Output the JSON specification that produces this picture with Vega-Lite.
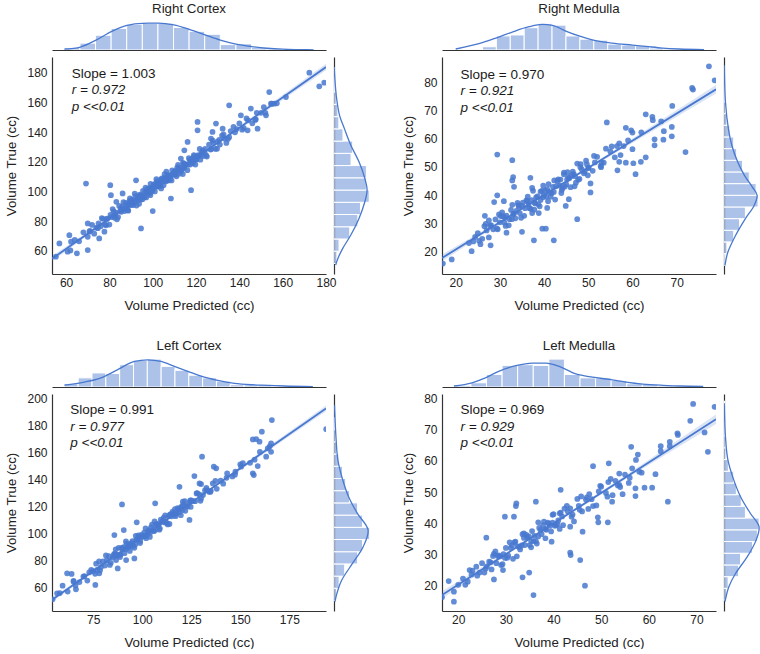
{
"$schema": "https://vega.github.io/schema/vega-lite/v6.json",
"padding": {"left": 4, "top": 1, "right": 0, "bottom": 0},
"datasets": {
"pts": [
{"p":"RC","x":62,"y":60.2},{"p":"RC","x":64,"y":67.3},{"p":"RC","x":66,"y":66.3},{"p":"RC","x":68,"y":72.4},{"p":"RC","x":70,"y":69.4},{"p":"RC","x":71,"y":73.4},{"p":"RC","x":72,"y":77.4},{"p":"RC","x":73,"y":71.5},{"p":"RC","x":74,"y":75.5},{"p":"RC","x":75,"y":78.5},{"p":"RC","x":76,"y":76.5},{"p":"RC","x":77,"y":81.5},{"p":"RC","x":78,"y":77.6},{"p":"RC","x":79,"y":81.6},{"p":"RC","x":80,"y":77.6},{"p":"RC","x":80.5,"y":84.1},{"p":"RC","x":81,"y":82.6},{"p":"RC","x":82,"y":86.6},{"p":"RC","x":82.5,"y":82.2},{"p":"RC","x":83,"y":85.7},{"p":"RC","x":84,"y":82.7},{"p":"RC","x":84.5,"y":90.2},{"p":"RC","x":85,"y":86.7},{"p":"RC","x":85.5,"y":86.2},{"p":"RC","x":86,"y":89.7},{"p":"RC","x":87,"y":86.7},{"p":"RC","x":87.5,"y":92.3},{"p":"RC","x":88,"y":89.8},{"p":"RC","x":88.5,"y":87.3},{"p":"RC","x":89,"y":91.8},{"p":"RC","x":89.5,"y":95.3},{"p":"RC","x":90,"y":90.8},{"p":"RC","x":90.5,"y":94.3},{"p":"RC","x":91,"y":90.8},{"p":"RC","x":91.5,"y":93.3},{"p":"RC","x":92,"y":96.8},{"p":"RC","x":92.5,"y":90.4},{"p":"RC","x":93,"y":95.9},{"p":"RC","x":93.5,"y":94.4},{"p":"RC","x":94,"y":97.9},{"p":"RC","x":94.5,"y":94.4},{"p":"RC","x":95,"y":96.9},{"p":"RC","x":95.5,"y":100.4},{"p":"RC","x":96,"y":96.9},{"p":"RC","x":96.5,"y":99.4},{"p":"RC","x":97,"y":95.9},{"p":"RC","x":97.5,"y":101.5},{"p":"RC","x":98,"y":100},{"p":"RC","x":98.5,"y":98.5},{"p":"RC","x":99,"y":105},{"p":"RC","x":99.5,"y":102.5},{"p":"RC","x":100,"y":101},{"p":"RC","x":100.5,"y":104.5},{"p":"RC","x":101,"y":100},{"p":"RC","x":101.5,"y":103.5},{"p":"RC","x":102,"y":107},{"p":"RC","x":102.5,"y":103.6},{"p":"RC","x":103,"y":106.1},{"p":"RC","x":103.5,"y":103.6},{"p":"RC","x":104,"y":108.1},{"p":"RC","x":104.5,"y":106.6},{"p":"RC","x":105,"y":104.1},{"p":"RC","x":105.5,"y":111.6},{"p":"RC","x":106,"y":109.1},{"p":"RC","x":106.5,"y":107.6},{"p":"RC","x":107,"y":111.1},{"p":"RC","x":108,"y":108.2},{"p":"RC","x":108.5,"y":110.7},{"p":"RC","x":109,"y":114.2},{"p":"RC","x":110,"y":111.2},{"p":"RC","x":110.5,"y":113.7},{"p":"RC","x":111,"y":110.2},{"p":"RC","x":112,"y":116.2},{"p":"RC","x":112.5,"y":114.8},{"p":"RC","x":113,"y":113.3},{"p":"RC","x":114,"y":119.3},{"p":"RC","x":114.5,"y":115.8},{"p":"RC","x":115,"y":118.3},{"p":"RC","x":116,"y":114.3},{"p":"RC","x":117,"y":121.3},{"p":"RC","x":118,"y":120.4},{"p":"RC","x":118.5,"y":118.9},{"p":"RC","x":119,"y":124.4},{"p":"RC","x":120,"y":121.4},{"p":"RC","x":121,"y":124.4},{"p":"RC","x":122,"y":121.4},{"p":"RC","x":123,"y":127.5},{"p":"RC","x":124,"y":126.5},{"p":"RC","x":125,"y":123.5},{"p":"RC","x":126,"y":131.5},{"p":"RC","x":127,"y":128.5},{"p":"RC","x":128,"y":132.6},{"p":"RC","x":129,"y":128.6},{"p":"RC","x":130,"y":133.6},{"p":"RC","x":131,"y":131.6},{"p":"RC","x":132,"y":137.6},{"p":"RC","x":133,"y":135.7},{"p":"RC","x":134,"y":132.7},{"p":"RC","x":136,"y":140.7},{"p":"RC","x":138,"y":139.8},{"p":"RC","x":140,"y":145.8},{"p":"RC","x":142,"y":142.8},{"p":"RC","x":144,"y":147.9},{"p":"RC","x":146,"y":145.9},{"p":"RC","x":148,"y":153},{"p":"RC","x":150,"y":153},{"p":"RC","x":152,"y":153},{"p":"RC","x":155,"y":159.1},
{"p":"RC","x":85.3,"y":88.5},{"p":"RC","x":87.3,"y":88},{"p":"RC","x":89.3,"y":93.6},{"p":"RC","x":91.3,"y":92.6},{"p":"RC","x":93.3,"y":96.2},{"p":"RC","x":95.3,"y":94.7},{"p":"RC","x":97.3,"y":99.7},{"p":"RC","x":99.3,"y":99.8},{"p":"RC","x":101.3,"y":105.3},{"p":"RC","x":103.3,"y":104.9},{"p":"RC","x":105.3,"y":108.9},{"p":"RC","x":107.3,"y":107.4},{"p":"RC","x":109.3,"y":112},{"p":"RC","x":111.3,"y":116},{"p":"RC","x":113.3,"y":114.6},{"p":"RC","x":115.3,"y":118.1},{"p":"RC","x":117.3,"y":118.1},{"p":"RC","x":119.3,"y":123.7},{"p":"RC","x":121.3,"y":123.7},{"p":"RC","x":123.3,"y":123.8},{"p":"RC","x":90.7,"y":93},{"p":"RC","x":94.7,"y":95.6},{"p":"RC","x":98.7,"y":102.2},{"p":"RC","x":102.7,"y":104.3},{"p":"RC","x":106.7,"y":109.8},{"p":"RC","x":110.7,"y":111.4},{"p":"RC","x":114.7,"y":117.5},{"p":"RC","x":118.7,"y":120.6},{"p":"RC","x":122.7,"y":126.2},{"p":"RC","x":126.7,"y":128.2},{"p":"RC","x":78.7,"y":81.3},{"p":"RC","x":82.7,"y":83.9},{"p":"RC","x":74.7,"y":75.2},{"p":"RC","x":130.7,"y":134.8},{"p":"RC","x":135.3,"y":136.5},{"p":"RC","x":138.7,"y":142},
{"p":"RC","x":86.2,"y":88.4},{"p":"RC","x":88.2,"y":88.5},{"p":"RC","x":90.2,"y":94},{"p":"RC","x":92.2,"y":93.5},{"p":"RC","x":94.2,"y":97.1},{"p":"RC","x":96.2,"y":96.1},{"p":"RC","x":98.2,"y":101.7},{"p":"RC","x":100.2,"y":102.2},{"p":"RC","x":102.2,"y":103.2},{"p":"RC","x":104.2,"y":108.8},{"p":"RC","x":106.2,"y":106.8},{"p":"RC","x":108.2,"y":110.9},{"p":"RC","x":110.2,"y":113.4},{"p":"RC","x":112.2,"y":111.9},{"p":"RC","x":114.2,"y":118.5},{"p":"RC","x":116.2,"y":118},{"p":"RC","x":118.2,"y":122.1},{"p":"RC","x":120.2,"y":121.6},{"p":"RC","x":122.2,"y":124.6},{"p":"RC","x":124.2,"y":128.7},{"p":"RC","x":89.8,"y":91.1},{"p":"RC","x":93.8,"y":96.2},{"p":"RC","x":97.8,"y":99.3},{"p":"RC","x":101.8,"y":104.3},{"p":"RC","x":105.8,"y":107.4},{"p":"RC","x":109.8,"y":112.5},{"p":"RC","x":113.8,"y":115.6},{"p":"RC","x":117.8,"y":120.7},
{"p":"RC","x":76.5,"y":82},{"p":"RC","x":78.5,"y":77.1},{"p":"RC","x":81.5,"y":88.1},{"p":"RC","x":83.5,"y":81.2},{"p":"RC","x":86.5,"y":92.7},{"p":"RC","x":88.7,"y":87},{"p":"RC","x":91.7,"y":98.5},{"p":"RC","x":93.7,"y":91.6},{"p":"RC","x":96.7,"y":102.6},{"p":"RC","x":98.9,"y":97.4},{"p":"RC","x":101.7,"y":108.2},{"p":"RC","x":103.9,"y":102},{"p":"RC","x":106.3,"y":113.4},{"p":"RC","x":108.7,"y":107.4},{"p":"RC","x":111.7,"y":117.9},{"p":"RC","x":113.9,"y":111.7},{"p":"RC","x":116.7,"y":122.5},{"p":"RC","x":119.7,"y":118.1},{"p":"RC","x":121.7,"y":128.6},{"p":"RC","x":124.7,"y":124.2},{"p":"RC","x":127.7,"y":134.3},{"p":"RC","x":129.7,"y":128.8},{"p":"RC","x":132.7,"y":138.4},{"p":"RC","x":134.7,"y":135.4},{"p":"RC","x":137.3,"y":143.5},{"p":"RC","x":141.3,"y":141.6},{"p":"RC","x":143.3,"y":149.2},{"p":"RC","x":147.3,"y":148.2},{"p":"RC","x":151.3,"y":156.8},{"p":"RC","x":157.3,"y":159.4},
{"p":"RC","x":172.3,"y":180},{"p":"RC","x":176.9,"y":170.8},{"p":"RC","x":179.2,"y":173.3},{"p":"RC","x":153.8,"y":167},{"p":"RC","x":154.6,"y":159.1},{"p":"RC","x":156.1,"y":159.1},{"p":"RC","x":161.5,"y":163.6},{"p":"RC","x":135.3,"y":158},{"p":"RC","x":145.3,"y":155.8},{"p":"RC","x":140.7,"y":151.3},{"p":"RC","x":143.8,"y":141.2},{"p":"RC","x":148.4,"y":142.3},{"p":"RC","x":147.6,"y":148.6},{"p":"RC","x":152.3,"y":151.3},{"p":"RC","x":120.7,"y":146.8},{"p":"RC","x":120.7,"y":141.2},{"p":"RC","x":129.2,"y":145.7},{"p":"RC","x":127.6,"y":140.1},{"p":"RC","x":132.3,"y":142.3},{"p":"RC","x":126.9,"y":135.6},{"p":"RC","x":116.1,"y":133.3},{"p":"RC","x":114.6,"y":127.7},{"p":"RC","x":113,"y":122.1},{"p":"RC","x":92.3,"y":107.5},{"p":"RC","x":80.4,"y":104.2},{"p":"RC","x":69.2,"y":105.3},{"p":"RC","x":117.7,"y":100.8},{"p":"RC","x":108.4,"y":95.2},{"p":"RC","x":100,"y":86.7},{"p":"RC","x":94.6,"y":75},{"p":"RC","x":80.7,"y":97.4},{"p":"RC","x":86.1,"y":98.6},{"p":"RC","x":83.2,"y":93},{"p":"RC","x":70,"y":78.4},{"p":"RC","x":70.8,"y":72.8},{"p":"RC","x":56.9,"y":64.9},{"p":"RC","x":61.5,"y":70.5},{"p":"RC","x":62.3,"y":66.1},{"p":"RC","x":65,"y":58.2},{"p":"RC","x":70,"y":60.4},{"p":"RC","x":55.3,"y":56},{"p":"RC","x":60.7,"y":59.3},{"p":"RC","x":77.7,"y":72.8},{"p":"RC","x":75.3,"y":68.3},
{"p":"RM","x":24,"y":23.5},{"p":"RM","x":25,"y":26.4},{"p":"RM","x":26,"y":24.4},{"p":"RM","x":26.5,"y":28.9},{"p":"RM","x":27,"y":27.4},{"p":"RM","x":27.5,"y":24.9},{"p":"RM","x":28,"y":29.3},{"p":"RM","x":28.5,"y":27.8},{"p":"RM","x":29,"y":31.3},{"p":"RM","x":29.5,"y":27.8},{"p":"RM","x":30,"y":30.3},{"p":"RM","x":30.5,"y":33.8},{"p":"RM","x":31,"y":30.2},{"p":"RM","x":31.5,"y":32.7},{"p":"RM","x":32,"y":29.2},{"p":"RM","x":32.5,"y":34.7},{"p":"RM","x":33,"y":33.2},{"p":"RM","x":33.5,"y":31.7},{"p":"RM","x":34,"y":37.2},{"p":"RM","x":34.5,"y":33.6},{"p":"RM","x":35,"y":36.1},{"p":"RM","x":35.5,"y":32.6},{"p":"RM","x":36,"y":38.1},{"p":"RM","x":36.5,"y":36.6},{"p":"RM","x":37,"y":35.1},{"p":"RM","x":37.5,"y":41.5},{"p":"RM","x":38,"y":37},{"p":"RM","x":38.5,"y":39.5},{"p":"RM","x":39,"y":36},{"p":"RM","x":39.5,"y":41.5},{"p":"RM","x":40,"y":40},{"p":"RM","x":40.5,"y":39.4},{"p":"RM","x":41,"y":43.9},{"p":"RM","x":41.5,"y":39.4},{"p":"RM","x":42,"y":42.9},{"p":"RM","x":42.5,"y":38.4},{"p":"RM","x":43,"y":44.9},{"p":"RM","x":43.5,"y":43.4},{"p":"RM","x":44,"y":41.8},{"p":"RM","x":44.5,"y":47.3},{"p":"RM","x":45,"y":43.8},{"p":"RM","x":45.5,"y":46.3},{"p":"RM","x":46,"y":42.8},{"p":"RM","x":46.5,"y":48.3},{"p":"RM","x":47,"y":46.7},{"p":"RM","x":47.5,"y":51.2},{"p":"RM","x":48,"y":45.7},{"p":"RM","x":48.5,"y":49.2},{"p":"RM","x":49,"y":47.7},{"p":"RM","x":49.5,"y":52.2},{"p":"RM","x":50,"y":49.6},{"p":"RM","x":51,"y":48.6},{"p":"RM","x":52,"y":53.6},{"p":"RM","x":53,"y":51.5},{"p":"RM","x":54,"y":56.5},{"p":"RM","x":55,"y":55.5},{"p":"RM","x":56,"y":53.4},{"p":"RM","x":57,"y":58.4},{"p":"RM","x":58,"y":57.4},{"p":"RM","x":59,"y":59.4},{"p":"RM","x":60,"y":56.3},{"p":"RM","x":62,"y":62.3},
{"p":"RM","x":30.7,"y":32.4},{"p":"RM","x":32.2,"y":31.4},{"p":"RM","x":33.7,"y":34.4},{"p":"RM","x":35.2,"y":37.3},{"p":"RM","x":36.7,"y":35.3},{"p":"RM","x":38.2,"y":39.2},{"p":"RM","x":39.7,"y":39.2},{"p":"RM","x":40.7,"y":42.1},{"p":"RM","x":41.7,"y":40.6},{"p":"RM","x":42.7,"y":43.1},{"p":"RM","x":43.7,"y":45.5},{"p":"RM","x":44.7,"y":43},{"p":"RM","x":45.7,"y":46},{"p":"RM","x":46.7,"y":47.4},{"p":"RM","x":47.7,"y":45.4},{"p":"RM","x":49.7,"y":50.9},{"p":"RM","x":51.5,"y":51.6},{"p":"RM","x":53.5,"y":51.5},{"p":"RM","x":56.5,"y":57.4},{"p":"RM","x":34.3,"y":35.9},{"p":"RM","x":37.8,"y":37.3},{"p":"RM","x":39.2,"y":41.2},{"p":"RM","x":29.3,"y":28.1},{"p":"RM","x":27.8,"y":29.1},
{"p":"RM","x":31.2,"y":31.9},{"p":"RM","x":32.7,"y":31.4},{"p":"RM","x":34.2,"y":36.3},{"p":"RM","x":35.7,"y":35.3},{"p":"RM","x":37.2,"y":38.2},{"p":"RM","x":38.7,"y":36.7},{"p":"RM","x":40.2,"y":41.6},{"p":"RM","x":41.2,"y":41.1},{"p":"RM","x":42.2,"y":41.1},{"p":"RM","x":43.2,"y":45.6},{"p":"RM","x":44.2,"y":42.5},{"p":"RM","x":45.2,"y":45.5},{"p":"RM","x":46.2,"y":47},{"p":"RM","x":47.2,"y":44.4},{"p":"RM","x":48.2,"y":49.9},{"p":"RM","x":49.2,"y":48.4},{"p":"RM","x":36.2,"y":37.8},{"p":"RM","x":39.2,"y":38.2},{"p":"RM","x":33.2,"y":33.4},{"p":"RM","x":30.2,"y":32.5},
{"p":"RM","x":29.8,"y":33.1},{"p":"RM","x":31.3,"y":29},{"p":"RM","x":32.8,"y":36.5},{"p":"RM","x":34.8,"y":31.9},{"p":"RM","x":36.3,"y":39.4},{"p":"RM","x":37.8,"y":34.8},{"p":"RM","x":39.8,"y":43.3},{"p":"RM","x":40.9,"y":37.8},{"p":"RM","x":42.3,"y":45.2},{"p":"RM","x":43.9,"y":40.7},{"p":"RM","x":45.3,"y":48.1},{"p":"RM","x":46.9,"y":43.1},{"p":"RM","x":48.3,"y":51},{"p":"RM","x":49.9,"y":47},{"p":"RM","x":51.3,"y":53.9},{"p":"RM","x":52.9,"y":49.9},{"p":"RM","x":55.3,"y":57.3},{"p":"RM","x":57.3,"y":54.2},{"p":"RM","x":26.8,"y":29.7},{"p":"RM","x":25.3,"y":23.7},
{"p":"RM","x":77.3,"y":85.8},{"p":"RM","x":78.6,"y":80.8},{"p":"RM","x":73.5,"y":78.1},{"p":"RM","x":73.7,"y":77.5},{"p":"RM","x":69,"y":71.7},{"p":"RM","x":63,"y":68.7},{"p":"RM","x":64.5,"y":67.8},{"p":"RM","x":64.6,"y":66.6},{"p":"RM","x":66.5,"y":66.2},{"p":"RM","x":67.1,"y":62.7},{"p":"RM","x":68.9,"y":64.2},{"p":"RM","x":68.9,"y":60.9},{"p":"RM","x":65,"y":59.8},{"p":"RM","x":67,"y":59.7},{"p":"RM","x":65,"y":57.7},{"p":"RM","x":58.5,"y":63.9},{"p":"RM","x":59.7,"y":63},{"p":"RM","x":60,"y":62.2},{"p":"RM","x":54.2,"y":65.8},{"p":"RM","x":72,"y":55.3},{"p":"RM","x":57,"y":51.8},{"p":"RM","x":58.5,"y":51.5},{"p":"RM","x":60.2,"y":51.3},{"p":"RM","x":61.9,"y":51.8},{"p":"RM","x":63,"y":53.4},{"p":"RM","x":60.7,"y":47.4},{"p":"RM","x":56.6,"y":48.8},{"p":"RM","x":52.8,"y":50.3},{"p":"RM","x":50.1,"y":49.7},{"p":"RM","x":50.5,"y":44.1},{"p":"RM","x":29.4,"y":54.4},{"p":"RM","x":32.8,"y":52.4},{"p":"RM","x":33,"y":46.4},{"p":"RM","x":32.8,"y":45.2},{"p":"RM","x":33.2,"y":42.9},{"p":"RM","x":36.9,"y":46.1},{"p":"RM","x":37.3,"y":42.5},{"p":"RM","x":44.5,"y":48},{"p":"RM","x":47.5,"y":31.4},{"p":"RM","x":45.6,"y":38.5},{"p":"RM","x":44.9,"y":36.1},{"p":"RM","x":50.5,"y":40.9},{"p":"RM","x":37.7,"y":23.9},{"p":"RM","x":42.2,"y":23.9},{"p":"RM","x":39.6,"y":28},{"p":"RM","x":40.4,"y":28},{"p":"RM","x":37.3,"y":33.6},{"p":"RM","x":38.8,"y":33.6},{"p":"RM","x":35,"y":26.9},{"p":"RM","x":40.7,"y":35.4},{"p":"RM","x":23,"y":22.9},{"p":"RM","x":23.6,"y":20},{"p":"RM","x":19.1,"y":17.1},{"p":"RM","x":17.1,"y":15.6},{"p":"RM","x":24.4,"y":25.1},{"p":"RM","x":25.6,"y":22.5},{"p":"RM","x":27.9,"y":22.1},{"p":"RM","x":26.6,"y":32.6},{"p":"RM","x":27.5,"y":31},{"p":"RM","x":31.5,"y":26.6},{"p":"RM","x":29.4,"y":39.9},{"p":"RM","x":28.7,"y":37.5},{"p":"RM","x":30.9,"y":37.8},
{"p":"LC","x":62,"y":57.3},{"p":"LC","x":65,"y":65.3},{"p":"LC","x":68,"y":64.3},{"p":"LC","x":70,"y":68.4},{"p":"LC","x":72,"y":65.4},{"p":"LC","x":74,"y":73.4},{"p":"LC","x":75,"y":72.4},{"p":"LC","x":76,"y":70.4},{"p":"LC","x":78,"y":79.5},{"p":"LC","x":79,"y":75.5},{"p":"LC","x":80,"y":79.5},{"p":"LC","x":81,"y":76.5},{"p":"LC","x":82,"y":80.5},{"p":"LC","x":83,"y":83.5},{"p":"LC","x":84,"y":78.5},{"p":"LC","x":85,"y":82.5},{"p":"LC","x":86,"y":85.5},{"p":"LC","x":87,"y":83.6},{"p":"LC","x":88,"y":89.6},{"p":"LC","x":89,"y":84.6},{"p":"LC","x":90,"y":88.6},{"p":"LC","x":91,"y":85.6},{"p":"LC","x":92,"y":92.6},{"p":"LC","x":93,"y":90.6},{"p":"LC","x":94,"y":90.6},{"p":"LC","x":95,"y":94.6},{"p":"LC","x":96,"y":89.6},{"p":"LC","x":97,"y":95.7},{"p":"LC","x":98,"y":98.7},{"p":"LC","x":99,"y":94.7},{"p":"LC","x":100,"y":97.7},{"p":"LC","x":101,"y":100.7},{"p":"LC","x":102,"y":96.7},{"p":"LC","x":103,"y":101.7},{"p":"LC","x":104,"y":100.7},{"p":"LC","x":105,"y":106.7},{"p":"LC","x":106,"y":101.8},{"p":"LC","x":107,"y":106.8},{"p":"LC","x":108,"y":105.8},{"p":"LC","x":109,"y":103.8},{"p":"LC","x":110,"y":108.8},{"p":"LC","x":111,"y":111.8},{"p":"LC","x":112,"y":108.8},{"p":"LC","x":113,"y":106.8},{"p":"LC","x":114,"y":113.8},{"p":"LC","x":115,"y":112.8},{"p":"LC","x":116,"y":114.9},{"p":"LC","x":117,"y":112.9},{"p":"LC","x":118,"y":118.9},{"p":"LC","x":119,"y":115.9},{"p":"LC","x":120,"y":119.9},{"p":"LC","x":122,"y":116.9},{"p":"LC","x":124,"y":122.9},{"p":"LC","x":126,"y":124},{"p":"LC","x":128,"y":130},{"p":"LC","x":130,"y":126},{"p":"LC","x":132,"y":132},{"p":"LC","x":134,"y":131},{"p":"LC","x":136,"y":137.1},{"p":"LC","x":138,"y":133.1},{"p":"LC","x":140,"y":139.1},{"p":"LC","x":143,"y":141.2},{"p":"LC","x":146,"y":142.2},{"p":"LC","x":150,"y":151.2},{"p":"LC","x":155,"y":152.3},{"p":"LC","x":160,"y":160.3},{"p":"LC","x":165,"y":164.4},
{"p":"LC","x":85.5,"y":84.5},{"p":"LC","x":87.5,"y":84.1},{"p":"LC","x":89.5,"y":89.6},{"p":"LC","x":91.5,"y":88.6},{"p":"LC","x":93.5,"y":92.1},{"p":"LC","x":95.5,"y":91.1},{"p":"LC","x":97.5,"y":95.7},{"p":"LC","x":99.5,"y":99.2},{"p":"LC","x":101.5,"y":98.2},{"p":"LC","x":103.5,"y":102.7},{"p":"LC","x":105.5,"y":102.7},{"p":"LC","x":107.5,"y":107.3},{"p":"LC","x":109.5,"y":110.3},{"p":"LC","x":111.5,"y":108.3},{"p":"LC","x":113.5,"y":112.8},{"p":"LC","x":115.5,"y":116.3},{"p":"LC","x":117.5,"y":114.9},{"p":"LC","x":119.5,"y":118.9},{"p":"LC","x":121,"y":121.4},{"p":"LC","x":123,"y":119.9},{"p":"LC","x":125,"y":124.5},{"p":"LC","x":127,"y":124},{"p":"LC","x":129,"y":129},{"p":"LC","x":131,"y":128.5},{"p":"LC","x":133,"y":132.1},{"p":"LC","x":135,"y":131.6},{"p":"LC","x":77,"y":73.4},{"p":"LC","x":73,"y":71.4},{"p":"LC","x":66,"y":61.8},{"p":"LC","x":58,"y":56.2},
{"p":"LC","x":86.5,"y":84.5},{"p":"LC","x":88.5,"y":84.6},{"p":"LC","x":90.5,"y":90.1},{"p":"LC","x":92.5,"y":89.6},{"p":"LC","x":94.5,"y":93.1},{"p":"LC","x":96.5,"y":92.2},{"p":"LC","x":98.5,"y":97.7},{"p":"LC","x":100.5,"y":98.2},{"p":"LC","x":102.5,"y":99.2},{"p":"LC","x":104.5,"y":104.7},{"p":"LC","x":106.5,"y":102.8},{"p":"LC","x":108.5,"y":106.8},{"p":"LC","x":110.5,"y":109.3},{"p":"LC","x":112.5,"y":107.8},{"p":"LC","x":114.5,"y":114.4},{"p":"LC","x":116.5,"y":113.9},{"p":"LC","x":118.5,"y":117.9},{"p":"LC","x":120.5,"y":117.4},{"p":"LC","x":122.5,"y":120.4},{"p":"LC","x":124.5,"y":124.5},
{"p":"LC","x":76.5,"y":77.9},{"p":"LC","x":78.5,"y":73},{"p":"LC","x":81.5,"y":84},{"p":"LC","x":83.5,"y":77},{"p":"LC","x":86.5,"y":88.5},{"p":"LC","x":88.7,"y":82.8},{"p":"LC","x":91.7,"y":94.3},{"p":"LC","x":93.7,"y":87.3},{"p":"LC","x":96.7,"y":98.4},{"p":"LC","x":98.9,"y":93.1},{"p":"LC","x":101.7,"y":103.9},{"p":"LC","x":103.9,"y":97.6},{"p":"LC","x":106.3,"y":109.1},{"p":"LC","x":108.7,"y":103},{"p":"LC","x":111.7,"y":113.5},{"p":"LC","x":113.9,"y":107.2},{"p":"LC","x":116.7,"y":118.1},{"p":"LC","x":119.7,"y":113.6},{"p":"LC","x":121.7,"y":124.1},{"p":"LC","x":124.7,"y":119.7},{"p":"LC","x":127.7,"y":129.7},{"p":"LC","x":129.7,"y":124.2},{"p":"LC","x":132.7,"y":133.7},{"p":"LC","x":134.7,"y":130.8},{"p":"LC","x":137.3,"y":138.9},{"p":"LC","x":141.3,"y":136.9},{"p":"LC","x":143.3,"y":144.4},{"p":"LC","x":147.3,"y":143.5},{"p":"LC","x":151.3,"y":152},{"p":"LC","x":157.3,"y":154.6},
{"p":"LC","x":193.8,"y":177.1},{"p":"LC","x":166.1,"y":183.8},{"p":"LC","x":161,"y":175.2},{"p":"LC","x":156.4,"y":169.5},{"p":"LC","x":158.1,"y":169.8},{"p":"LC","x":159.8,"y":167.8},{"p":"LC","x":165.7,"y":166.6},{"p":"LC","x":164,"y":162.9},{"p":"LC","x":165.7,"y":160.4},{"p":"LC","x":163.2,"y":156.8},{"p":"LC","x":158.9,"y":149.9},{"p":"LC","x":156.4,"y":144.5},{"p":"LC","x":156.9,"y":143.2},{"p":"LC","x":150.4,"y":149.4},{"p":"LC","x":147.5,"y":145.7},{"p":"LC","x":130.5,"y":156.8},{"p":"LC","x":136.5,"y":149.4},{"p":"LC","x":137.7,"y":148.2},{"p":"LC","x":126.6,"y":142.5},{"p":"LC","x":129.2,"y":137.1},{"p":"LC","x":130,"y":136.6},{"p":"LC","x":119,"y":134.6},{"p":"LC","x":106.6,"y":122.4},{"p":"LC","x":120.7,"y":123.6},{"p":"LC","x":124.1,"y":110.1},{"p":"LC","x":89.7,"y":121.6},{"p":"LC","x":97.2,"y":108.4},{"p":"LC","x":90.6,"y":102.7},{"p":"LC","x":85.8,"y":99},{"p":"LC","x":86.7,"y":80.6},{"p":"LC","x":91.8,"y":80.6},{"p":"LC","x":96,"y":81.8},{"p":"LC","x":87.5,"y":74.4},{"p":"LC","x":76.1,"y":62.2},{"p":"LC","x":70.5,"y":68.8},{"p":"LC","x":78.1,"y":70.8},{"p":"LC","x":61.7,"y":70.8},{"p":"LC","x":64,"y":70.3},{"p":"LC","x":59.4,"y":61.7},{"p":"LC","x":65,"y":64.6},{"p":"LC","x":66.2,"y":59},{"p":"LC","x":56.6,"y":56},{"p":"LC","x":54.3,"y":51.6},
{"p":"LM","x":20,"y":20.3},{"p":"LM","x":21,"y":22.3},{"p":"LM","x":22,"y":21.3},{"p":"LM","x":23,"y":24.8},{"p":"LM","x":24,"y":23.2},{"p":"LM","x":25,"y":27.2},{"p":"LM","x":25.5,"y":24.2},{"p":"LM","x":26,"y":26.2},{"p":"LM","x":26.5,"y":27.7},{"p":"LM","x":27,"y":25.2},{"p":"LM","x":27.5,"y":30.2},{"p":"LM","x":28,"y":27.2},{"p":"LM","x":28.5,"y":29.7},{"p":"LM","x":29,"y":26.6},{"p":"LM","x":29.5,"y":30.1},{"p":"LM","x":30,"y":32.1},{"p":"LM","x":30.5,"y":29.6},{"p":"LM","x":31,"y":32.1},{"p":"LM","x":31.5,"y":28.6},{"p":"LM","x":32,"y":34.1},{"p":"LM","x":32.5,"y":32.6},{"p":"LM","x":33,"y":31.6},{"p":"LM","x":33.5,"y":36.5},{"p":"LM","x":34,"y":33},{"p":"LM","x":34.5,"y":35.5},{"p":"LM","x":35,"y":33},{"p":"LM","x":35.5,"y":37.5},{"p":"LM","x":36,"y":36},{"p":"LM","x":36.5,"y":33.5},{"p":"LM","x":37,"y":38.5},{"p":"LM","x":37.5,"y":36.5},{"p":"LM","x":38,"y":40.5},{"p":"LM","x":38.5,"y":37.9},{"p":"LM","x":39,"y":39.9},{"p":"LM","x":39.5,"y":37.4},{"p":"LM","x":40,"y":42.9},{"p":"LM","x":40.5,"y":39.4},{"p":"LM","x":41,"y":40.9},{"p":"LM","x":41.5,"y":43.4},{"p":"LM","x":42,"y":39.4},{"p":"LM","x":43,"y":43.8},{"p":"LM","x":44,"y":42.8},{"p":"LM","x":45,"y":47.8},{"p":"LM","x":46,"y":43.8},{"p":"LM","x":47,"y":48.3},{"p":"LM","x":48,"y":47.7},{"p":"LM","x":49,"y":45.7},{"p":"LM","x":50,"y":51.7},{"p":"LM","x":51,"y":49.7},{"p":"LM","x":52,"y":54.2},{"p":"LM","x":53,"y":53.6},{"p":"LM","x":54,"y":51.6},{"p":"LM","x":55,"y":55.6},{"p":"LM","x":56,"y":54.6},
{"p":"LM","x":28.3,"y":29.5},{"p":"LM","x":29.8,"y":28.9},{"p":"LM","x":31.3,"y":32.9},{"p":"LM","x":32.8,"y":32.4},{"p":"LM","x":34.3,"y":36.3},{"p":"LM","x":35.8,"y":34.3},{"p":"LM","x":37.3,"y":37.8},{"p":"LM","x":38.8,"y":40.2},{"p":"LM","x":40.3,"y":39.2},{"p":"LM","x":41.8,"y":42.2},{"p":"LM","x":43.5,"y":44.8},{"p":"LM","x":45.5,"y":44.3},{"p":"LM","x":47.5,"y":49.3},{"p":"LM","x":49.5,"y":50.2},{"p":"LM","x":51.5,"y":53.2},{"p":"LM","x":53.5,"y":52.1},{"p":"LM","x":56.5,"y":57.6},{"p":"LM","x":58,"y":56.5},{"p":"LM","x":36.8,"y":35.8},{"p":"LM","x":39.8,"y":40.2},{"p":"LM","x":26.8,"y":27.5},{"p":"LM","x":24.5,"y":24.2},
{"p":"LM","x":28.8,"y":29.4},{"p":"LM","x":30.3,"y":28.9},{"p":"LM","x":31.8,"y":33.9},{"p":"LM","x":33.3,"y":32.9},{"p":"LM","x":34.8,"y":35.8},{"p":"LM","x":36.3,"y":34.3},{"p":"LM","x":37.8,"y":39.3},{"p":"LM","x":39.3,"y":39.2},{"p":"LM","x":40.8,"y":39.7},{"p":"LM","x":42.3,"y":44.7},{"p":"LM","x":43.8,"y":42.1},{"p":"LM","x":45.3,"y":45.6},{"p":"LM","x":46.8,"y":47.6},{"p":"LM","x":48.3,"y":45.5},{"p":"LM","x":27.3,"y":29.5},{"p":"LM","x":25.8,"y":25.5},{"p":"LM","x":33.8,"y":35.3},{"p":"LM","x":35.3,"y":34.3},{"p":"LM","x":38.3,"y":38.2},{"p":"LM","x":41.3,"y":43.2},
{"p":"LM","x":27.8,"y":31},{"p":"LM","x":29.3,"y":26.9},{"p":"LM","x":30.8,"y":33.9},{"p":"LM","x":32.3,"y":29.4},{"p":"LM","x":33.8,"y":36.8},{"p":"LM","x":35.3,"y":32.3},{"p":"LM","x":36.8,"y":40.3},{"p":"LM","x":38.3,"y":35.2},{"p":"LM","x":39.8,"y":42.7},{"p":"LM","x":41.3,"y":38.2},{"p":"LM","x":42.8,"y":45.6},{"p":"LM","x":44.3,"y":40.6},{"p":"LM","x":45.8,"y":48.6},{"p":"LM","x":47.3,"y":44.6},{"p":"LM","x":49.8,"y":52},{"p":"LM","x":51.3,"y":48.5},{"p":"LM","x":53.8,"y":55.9},{"p":"LM","x":55.8,"y":52.9},{"p":"LM","x":23.8,"y":26.1},{"p":"LM","x":21.5,"y":20.3},
{"p":"LM","x":69.3,"y":78.2},{"p":"LM","x":73.8,"y":77.3},{"p":"LM","x":68.7,"y":72.8},{"p":"LM","x":71.7,"y":69.1},{"p":"LM","x":72.4,"y":62.9},{"p":"LM","x":66,"y":68.8},{"p":"LM","x":66.1,"y":68.3},{"p":"LM","x":62.5,"y":64.7},{"p":"LM","x":64.4,"y":66.1},{"p":"LM","x":64.4,"y":64.7},{"p":"LM","x":62.5,"y":63.1},{"p":"LM","x":56.3,"y":64.5},{"p":"LM","x":57.7,"y":62},{"p":"LM","x":57.3,"y":60.3},{"p":"LM","x":51.6,"y":59.2},{"p":"LM","x":48.3,"y":58.3},{"p":"LM","x":58.5,"y":56.2},{"p":"LM","x":61.4,"y":55.7},{"p":"LM","x":59.1,"y":51.4},{"p":"LM","x":60.7,"y":51.4},{"p":"LM","x":57.2,"y":51.2},{"p":"LM","x":57.2,"y":48.7},{"p":"LM","x":64,"y":46.9},{"p":"LM","x":53.8,"y":52.3},{"p":"LM","x":54.5,"y":49.3},{"p":"LM","x":52.4,"y":49},{"p":"LM","x":52.3,"y":46.9},{"p":"LM","x":49.3,"y":41.9},{"p":"LM","x":49.4,"y":40.3},{"p":"LM","x":51.4,"y":40.3},{"p":"LM","x":46.1,"y":37.3},{"p":"LM","x":43.5,"y":38.9},{"p":"LM","x":41.5,"y":50.7},{"p":"LM","x":36.3,"y":46.9},{"p":"LM","x":32.1,"y":45.5},{"p":"LM","x":32.2,"y":46.4},{"p":"LM","x":29.8,"y":42.1},{"p":"LM","x":31.7,"y":42.1},{"p":"LM","x":25.9,"y":35.4},{"p":"LM","x":45.6,"y":28.2},{"p":"LM","x":43.5,"y":30.6},{"p":"LM","x":43.6,"y":29.8},{"p":"LM","x":39.6,"y":34.1},{"p":"LM","x":34.9,"y":24.2},{"p":"LM","x":33.5,"y":22.7},{"p":"LM","x":46.6,"y":20},{"p":"LM","x":35.8,"y":17},{"p":"LM","x":18,"y":21.5},{"p":"LM","x":19.1,"y":18.1},{"p":"LM","x":19.1,"y":14.9},{"p":"LM","x":16.6,"y":16.3},{"p":"LM","x":22.4,"y":25},{"p":"LM","x":22.8,"y":23.6},{"p":"LM","x":29.4,"y":25},{"p":"LM","x":27.5,"y":22}
],
"fit": [
{"p":"RC","x":53.5,"fit":54.6,"lo":52.8,"hi":56.4},{"p":"RC","x":80,"fit":81.7,"lo":80.8,"hi":82.6},{"p":"RC","x":100,"fit":102.1,"lo":101.5,"hi":102.7},{"p":"RC","x":130,"fit":132.7,"lo":131.8,"hi":133.6},{"p":"RC","x":180,"fit":183.8,"lo":181.6,"hi":186},
{"p":"RM","x":16.9,"fit":17.6,"lo":16.4,"hi":18.8},{"p":"RM","x":30,"fit":30.3,"lo":29.8,"hi":30.8},{"p":"RM","x":40,"fit":40,"lo":39.65,"hi":40.35},{"p":"RM","x":55,"fit":54.5,"lo":53.9,"hi":55.1},{"p":"RM","x":78.9,"fit":77.6,"lo":76.1,"hi":79.1},
{"p":"LC","x":54,"fit":51.2,"lo":49.7,"hi":52.7},{"p":"LC","x":80,"fit":77.5,"lo":76.7,"hi":78.3},{"p":"LC","x":100,"fit":97.7,"lo":97.2,"hi":98.2},{"p":"LC","x":130,"fit":128,"lo":127.2,"hi":128.8},{"p":"LC","x":193.7,"fit":192.4,"lo":190.2,"hi":194.6},
{"p":"LM","x":16.6,"fit":17,"lo":15.8,"hi":18.2},{"p":"LM","x":30,"fit":30.1,"lo":29.6,"hi":30.6},{"p":"LM","x":38,"fit":38,"lo":37.65,"hi":38.35},{"p":"LM","x":55,"fit":54.6,"lo":54,"hi":55.2},{"p":"LM","x":74.1,"fit":73.3,"lo":71.8,"hi":74.8}
],
"ann": [
{"p":"RC","k":"a","x":62.6,"y":179.1,"t":"Slope = 1.003"},{"p":"RC","k":"b","x":62.6,"y":168.4,"t":"r = 0.972"},{"p":"RC","k":"b","x":62.6,"y":156.9,"t":"p <<0.01"},
{"p":"RM","k":"a","x":21.1,"y":82.8,"t":"Slope = 0.970"},{"p":"RM","k":"b","x":21.1,"y":76.9,"t":"r = 0.921"},{"p":"RM","k":"b","x":21.1,"y":71,"t":"p <<0.01"},
{"p":"LC","k":"a","x":63.3,"y":191.2,"t":"Slope = 0.991"},{"p":"LC","k":"b","x":63.3,"y":178.9,"t":"r = 0.977"},{"p":"LC","k":"b","x":63.3,"y":167.1,"t":"p <<0.01"},
{"p":"LM","k":"a","x":20.5,"y":76.3,"t":"Slope = 0.969"},{"p":"LM","k":"b","x":20.5,"y":70.9,"t":"r = 0.929"},{"p":"LM","k":"b","x":20.5,"y":65.8,"t":"p <<0.01"}
],
"hx": [
{"p":"RC","x0":59.2,"x1":66.4,"n":2.5},{"p":"RC","x0":66.4,"x1":73.6,"n":7},{"p":"RC","x0":73.6,"x1":80.8,"n":15},{"p":"RC","x0":80.8,"x1":88,"n":22},{"p":"RC","x0":88,"x1":95.2,"n":26},{"p":"RC","x0":95.2,"x1":102.4,"n":27.3},{"p":"RC","x0":102.4,"x1":109.6,"n":27.3},{"p":"RC","x0":109.6,"x1":116.8,"n":23},{"p":"RC","x0":116.8,"x1":124,"n":19},{"p":"RC","x0":124,"x1":131.2,"n":16},{"p":"RC","x0":131.2,"x1":138.4,"n":5.5},{"p":"RC","x0":138.4,"x1":145.6,"n":6.3},{"p":"RC","x0":145.6,"x1":152.8,"n":2.7},{"p":"RC","x0":152.8,"x1":160,"n":1},{"p":"RC","x0":160,"x1":167.2,"n":0.7},{"p":"RC","x0":167.2,"x1":174.4,"n":1},
{"p":"RM","x0":22.9,"x1":26.05,"n":0.7},{"p":"RM","x0":26.05,"x1":29.2,"n":3.3},{"p":"RM","x0":29.2,"x1":32.35,"n":14.3},{"p":"RM","x0":32.35,"x1":35.5,"n":15.3},{"p":"RM","x0":35.5,"x1":38.65,"n":22.7},{"p":"RM","x0":38.65,"x1":41.8,"n":26.7},{"p":"RM","x0":41.8,"x1":44.95,"n":25.3},{"p":"RM","x0":44.95,"x1":48.1,"n":14.3},{"p":"RM","x0":48.1,"x1":51.25,"n":11},{"p":"RM","x0":51.25,"x1":54.4,"n":10},{"p":"RM","x0":54.4,"x1":57.55,"n":6},{"p":"RM","x0":57.55,"x1":60.7,"n":5},{"p":"RM","x0":60.7,"x1":63.85,"n":4.3},{"p":"RM","x0":63.85,"x1":67,"n":2},{"p":"RM","x0":67,"x1":70.15,"n":1},{"p":"RM","x0":70.15,"x1":73.3,"n":0.5},{"p":"RM","x0":73.3,"x1":76.45,"n":0.5},
{"p":"LC","x0":60.3,"x1":67.35,"n":3.3},{"p":"LC","x0":67.35,"x1":74.4,"n":9.3},{"p":"LC","x0":74.4,"x1":81.45,"n":14.3},{"p":"LC","x0":81.45,"x1":88.5,"n":13.7},{"p":"LC","x0":88.5,"x1":95.55,"n":22.7},{"p":"LC","x0":95.55,"x1":102.6,"n":27},{"p":"LC","x0":102.6,"x1":109.65,"n":28.4},{"p":"LC","x0":109.65,"x1":116.7,"n":21},{"p":"LC","x0":116.7,"x1":123.75,"n":17},{"p":"LC","x0":123.75,"x1":130.8,"n":12},{"p":"LC","x0":130.8,"x1":137.85,"n":9.3},{"p":"LC","x0":137.85,"x1":144.9,"n":6},{"p":"LC","x0":144.9,"x1":151.95,"n":2.3},{"p":"LC","x0":151.95,"x1":159,"n":2.3},{"p":"LC","x0":159,"x1":166.05,"n":2.3},{"p":"LC","x0":166.05,"x1":173.1,"n":0.7},{"p":"LC","x0":173.1,"x1":180.15,"n":0.3},{"p":"LC","x0":180.15,"x1":187.2,"n":0.3},{"p":"LC","x0":187.2,"x1":194.25,"n":0.3},
{"p":"LM","x0":19.4,"x1":22.67,"n":1.7},{"p":"LM","x0":22.67,"x1":25.94,"n":4.3},{"p":"LM","x0":25.94,"x1":29.21,"n":12.7},{"p":"LM","x0":29.21,"x1":32.48,"n":22},{"p":"LM","x0":32.48,"x1":35.75,"n":22.7},{"p":"LM","x0":35.75,"x1":39.02,"n":22},{"p":"LM","x0":39.02,"x1":42.29,"n":28.4},{"p":"LM","x0":42.29,"x1":45.56,"n":12.7},{"p":"LM","x0":45.56,"x1":48.83,"n":9.3},{"p":"LM","x0":48.83,"x1":52.1,"n":9.3},{"p":"LM","x0":52.1,"x1":55.37,"n":6.7},{"p":"LM","x0":55.37,"x1":58.64,"n":3.3},{"p":"LM","x0":58.64,"x1":61.91,"n":2.7},{"p":"LM","x0":61.91,"x1":65.18,"n":1.3},{"p":"LM","x0":65.18,"x1":68.45,"n":1},{"p":"LM","x0":68.45,"x1":71.72,"n":1}
],
"kx": [
{"p":"RC","x":59.2,"d":0.8},{"p":"RC","x":66.6,"d":3},{"p":"RC","x":73.8,"d":10},{"p":"RC","x":81.1,"d":19},{"p":"RC","x":88.1,"d":25},{"p":"RC","x":95.4,"d":27.2},{"p":"RC","x":102.6,"d":27.3},{"p":"RC","x":109.7,"d":25.5},{"p":"RC","x":116.9,"d":21},{"p":"RC","x":124.1,"d":15.5},{"p":"RC","x":131.2,"d":10},{"p":"RC","x":138.4,"d":6},{"p":"RC","x":145.7,"d":3.5},{"p":"RC","x":152.7,"d":1.8},{"p":"RC","x":160,"d":0.8},{"p":"RC","x":167,"d":0.4},{"p":"RC","x":174.3,"d":0.2},
{"p":"RM","x":20,"d":1},{"p":"RM","x":26.2,"d":7.7},{"p":"RM","x":29.4,"d":12.7},{"p":"RM","x":32.8,"d":18.3},{"p":"RM","x":36.6,"d":23.7},{"p":"RM","x":39.6,"d":26},{"p":"RM","x":41.9,"d":25},{"p":"RM","x":44.9,"d":19.3},{"p":"RM","x":47.9,"d":14.3},{"p":"RM","x":50.9,"d":10.3},{"p":"RM","x":55.4,"d":7},{"p":"RM","x":60,"d":5},{"p":"RM","x":63,"d":3.7},{"p":"RM","x":66.8,"d":2},{"p":"RM","x":70.5,"d":1},{"p":"RM","x":76.2,"d":0.3},
{"p":"LC","x":60.3,"d":2},{"p":"LC","x":70.5,"d":5},{"p":"LC","x":79,"d":9.3},{"p":"LC","x":87.5,"d":17.7},{"p":"LC","x":96,"d":26},{"p":"LC","x":102.8,"d":27.7},{"p":"LC","x":109.6,"d":26},{"p":"LC","x":116.4,"d":21},{"p":"LC","x":123.2,"d":16},{"p":"LC","x":130,"d":11},{"p":"LC","x":138.5,"d":6.7},{"p":"LC","x":147,"d":3.7},{"p":"LC","x":155.5,"d":2.3},{"p":"LC","x":164,"d":1.7},{"p":"LC","x":172.5,"d":1},{"p":"LC","x":187,"d":0.3},
{"p":"LM","x":19.1,"d":1},{"p":"LM","x":22.9,"d":4.3},{"p":"LM","x":25.7,"d":9.3},{"p":"LM","x":28.5,"d":16},{"p":"LM","x":32.1,"d":21.7},{"p":"LM","x":35.6,"d":24.3},{"p":"LM","x":38.4,"d":24.3},{"p":"LM","x":41.2,"d":21},{"p":"LM","x":44.7,"d":13.3},{"p":"LM","x":48.2,"d":10},{"p":"LM","x":51.7,"d":7.7},{"p":"LM","x":55.2,"d":5},{"p":"LM","x":58.7,"d":3},{"p":"LM","x":63,"d":1.7},{"p":"LM","x":66.5,"d":1},{"p":"LM","x":71.4,"d":0.7}
],
"hy": [
{"p":"RC","y0":51.4,"y1":59.65,"n":3},{"p":"RC","y0":59.65,"y1":67.9,"n":5.2},{"p":"RC","y0":67.9,"y1":76.15,"n":16.2},{"p":"RC","y0":76.15,"y1":84.4,"n":24.5},{"p":"RC","y0":84.4,"y1":92.65,"n":27.2},{"p":"RC","y0":92.65,"y1":100.9,"n":36.2},{"p":"RC","y0":100.9,"y1":109.15,"n":33.3},{"p":"RC","y0":109.15,"y1":117.4,"n":33.3},{"p":"RC","y0":117.4,"y1":125.65,"n":17.5},{"p":"RC","y0":125.65,"y1":133.9,"n":19.2},{"p":"RC","y0":133.9,"y1":142.15,"n":9.2},{"p":"RC","y0":142.15,"y1":150.4,"n":5},{"p":"RC","y0":150.4,"y1":158.65,"n":4},{"p":"RC","y0":158.65,"y1":166.9,"n":2.3},{"p":"RC","y0":166.9,"y1":175.15,"n":0.7},{"p":"RC","y0":175.15,"y1":183.4,"n":0.7},
{"p":"RM","y0":15,"y1":19.15,"n":1},{"p":"RM","y0":19.15,"y1":23.3,"n":3},{"p":"RM","y0":23.3,"y1":27.45,"n":10},{"p":"RM","y0":27.45,"y1":31.6,"n":16},{"p":"RM","y0":31.6,"y1":35.75,"n":22},{"p":"RM","y0":35.75,"y1":39.9,"n":35},{"p":"RM","y0":39.9,"y1":44.05,"n":33},{"p":"RM","y0":44.05,"y1":48.2,"n":26},{"p":"RM","y0":48.2,"y1":52.35,"n":19},{"p":"RM","y0":52.35,"y1":56.5,"n":13},{"p":"RM","y0":56.5,"y1":60.65,"n":10},{"p":"RM","y0":60.65,"y1":64.8,"n":6},{"p":"RM","y0":64.8,"y1":68.95,"n":3},{"p":"RM","y0":68.95,"y1":73.1,"n":1.5},{"p":"RM","y0":73.1,"y1":77.25,"n":0.7},{"p":"RM","y0":77.25,"y1":81.4,"n":0.5},{"p":"RM","y0":81.4,"y1":85.55,"n":0.3},
{"p":"LC","y0":50.7,"y1":59.7,"n":2.5},{"p":"LC","y0":59.7,"y1":68.7,"n":5.3},{"p":"LC","y0":68.7,"y1":77.7,"n":11},{"p":"LC","y0":77.7,"y1":86.7,"n":24.3},{"p":"LC","y0":86.7,"y1":95.7,"n":29.3},{"p":"LC","y0":95.7,"y1":104.7,"n":36.7},{"p":"LC","y0":104.7,"y1":113.7,"n":29.3},{"p":"LC","y0":113.7,"y1":122.7,"n":24.3},{"p":"LC","y0":122.7,"y1":131.7,"n":16},{"p":"LC","y0":131.7,"y1":140.7,"n":12},{"p":"LC","y0":140.7,"y1":149.7,"n":8.7},{"p":"LC","y0":149.7,"y1":158.7,"n":5},{"p":"LC","y0":158.7,"y1":167.7,"n":2.7},{"p":"LC","y0":167.7,"y1":176.7,"n":1.7},{"p":"LC","y0":176.7,"y1":185.7,"n":0.7},
{"p":"LM","y0":15.4,"y1":19.15,"n":2.7},{"p":"LM","y0":19.15,"y1":22.9,"n":4.3},{"p":"LM","y0":22.9,"y1":26.65,"n":15},{"p":"LM","y0":26.65,"y1":30.4,"n":17},{"p":"LM","y0":30.4,"y1":34.15,"n":29.3},{"p":"LM","y0":34.15,"y1":37.9,"n":34.3},{"p":"LM","y0":37.9,"y1":41.65,"n":36},{"p":"LM","y0":41.65,"y1":45.4,"n":22},{"p":"LM","y0":45.4,"y1":49.15,"n":17.7},{"p":"LM","y0":49.15,"y1":52.9,"n":12.7},{"p":"LM","y0":52.9,"y1":56.65,"n":10},{"p":"LM","y0":56.65,"y1":60.4,"n":4.5},{"p":"LM","y0":60.4,"y1":64.15,"n":2},{"p":"LM","y0":64.15,"y1":67.9,"n":1.3},{"p":"LM","y0":67.9,"y1":71.65,"n":0.8},{"p":"LM","y0":71.65,"y1":75.4,"n":0.5},{"p":"LM","y0":75.4,"y1":79.15,"n":0.5}
],
"ky": [
{"p":"RC","y":50.4,"d":1.7},{"p":"RC","y":54.8,"d":4},{"p":"RC","y":61.6,"d":9},{"p":"RC","y":70.6,"d":17.3},{"p":"RC","y":81.8,"d":25.7},{"p":"RC","y":93,"d":31.7},{"p":"RC","y":100.9,"d":34},{"p":"RC","y":108.7,"d":31.7},{"p":"RC","y":119.9,"d":25.7},{"p":"RC","y":131.1,"d":17.3},{"p":"RC","y":142.3,"d":10.7},{"p":"RC","y":151.3,"d":5.7},{"p":"RC","y":164.8,"d":2.3},{"p":"RC","y":183.8,"d":0.2},
{"p":"RM","y":86.2,"d":0.3},{"p":"RM","y":73.1,"d":1.5},{"p":"RM","y":63.6,"d":4.5},{"p":"RM","y":57.7,"d":8},{"p":"RM","y":51.8,"d":14},{"p":"RM","y":47,"d":21},{"p":"RM","y":42.9,"d":29},{"p":"RM","y":39.9,"d":34},{"p":"RM","y":36.3,"d":31},{"p":"RM","y":31.6,"d":22},{"p":"RM","y":25.7,"d":12},{"p":"RM","y":19.7,"d":4},{"p":"RM","y":15,"d":1},
{"p":"LC","y":194.8,"d":0.5},{"p":"LC","y":171.5,"d":2},{"p":"LC","y":154.3,"d":4},{"p":"LC","y":139.6,"d":9},{"p":"LC","y":127.3,"d":15},{"p":"LC","y":115,"d":24},{"p":"LC","y":102.7,"d":35},{"p":"LC","y":90.4,"d":30},{"p":"LC","y":78.1,"d":19},{"p":"LC","y":65.8,"d":8},{"p":"LC","y":56,"d":3},{"p":"LC","y":49.9,"d":1},
{"p":"LM","y":78.4,"d":0.3},{"p":"LM","y":67.7,"d":1.5},{"p":"LM","y":60.3,"d":4},{"p":"LM","y":53.9,"d":10},{"p":"LM","y":48.5,"d":17},{"p":"LM","y":43.2,"d":27},{"p":"LM","y":38.9,"d":36},{"p":"LM","y":34.6,"d":33},{"p":"LM","y":29.3,"d":24},{"p":"LM","y":24,"d":12},{"p":"LM","y":19.7,"d":5},{"p":"LM","y":14.9,"d":1}
]
},
"vconcat": [
{"hconcat": [
{"columns": 2, "bounds": "flush", "spacing": {"row": 7, "column": 8}, "concat": [
 {"width": 274, "height": 28, "title": "Right Cortex", "layer": [
  {"data": {"name": "hx"}, "transform": [{"filter": "datum.p == 'RC'"}], "mark": {"type": "rect", "color": "#4878CF", "fillOpacity": 0.45, "stroke": "white", "strokeWidth": 1, "clip": true},
   "encoding": {"x": {"field": "x0", "type": "quantitative", "scale": {"domain": [53.5, 180], "nice": false, "zero": false}, "axis": {"labels": false, "title": null}}, "x2": {"field": "x1"}, "y": {"field": "n", "type": "quantitative", "scale": {"domain": [0, 28.5], "nice": false}, "axis": null}, "y2": {"datum": 0}}},
  {"data": {"name": "kx"}, "transform": [{"filter": "datum.p == 'RC'"}], "mark": {"type": "line", "color": "#4878CF", "strokeWidth": 1.3, "interpolate": "monotone", "clip": true},
   "encoding": {"x": {"field": "x", "type": "quantitative", "scale": {"domain": [53.5, 180], "nice": false, "zero": false}, "axis": {"labels": false, "title": null}}, "y": {"field": "d", "type": "quantitative", "scale": {"domain": [0, 28.5], "nice": false}, "axis": null}}}
 ]},
 {"width": 36, "height": 28, "data": {"values": [{"e": 0}]}, "mark": "text", "encoding": {"text": {"value": ""}}},
 {"width": 274, "height": 217, "layer": [
  {"data": {"name": "fit"}, "transform": [{"filter": "datum.p == 'RC'"}], "mark": {"type": "area", "color": "#4878CF", "opacity": 0.2, "clip": true},
   "encoding": {"x": {"field": "x", "type": "quantitative", "scale": {"domain": [53.5, 180], "nice": false, "zero": false}, "axis": {"title": "Volume Predicted (cc)", "values": [60, 80, 100, 120, 140, 160, 180]}}, "y": {"field": "lo", "type": "quantitative", "scale": {"domain": [44.3, 190.6], "nice": false, "zero": false}, "axis": {"title": "Volume True (cc)", "values": [60, 80, 100, 120, 140, 160, 180]}}, "y2": {"field": "hi"}}},
  {"data": {"name": "pts"}, "transform": [{"filter": "datum.p == 'RC'"}], "mark": {"type": "circle", "size": 33, "color": "#4878CF", "opacity": 0.85, "clip": true},
   "encoding": {"x": {"field": "x", "type": "quantitative", "scale": {"domain": [53.5, 180], "nice": false, "zero": false}, "axis": {"title": "Volume Predicted (cc)", "values": [60, 80, 100, 120, 140, 160, 180]}}, "y": {"field": "y", "type": "quantitative", "scale": {"domain": [44.3, 190.6], "nice": false, "zero": false}, "axis": {"title": "Volume True (cc)", "values": [60, 80, 100, 120, 140, 160, 180]}}}},
  {"data": {"name": "fit"}, "transform": [{"filter": "datum.p == 'RC'"}], "mark": {"type": "line", "color": "#4878CF", "strokeWidth": 1.8, "clip": true},
   "encoding": {"x": {"field": "x", "type": "quantitative", "scale": {"domain": [53.5, 180], "nice": false, "zero": false}, "axis": {"title": "Volume Predicted (cc)", "values": [60, 80, 100, 120, 140, 160, 180]}}, "y": {"field": "fit", "type": "quantitative", "scale": {"domain": [44.3, 190.6], "nice": false, "zero": false}, "axis": {"title": "Volume True (cc)", "values": [60, 80, 100, 120, 140, 160, 180]}}}},
  {"data": {"name": "ann"}, "transform": [{"filter": "datum.p == 'RC' && datum.k == 'a'"}], "mark": {"type": "text", "align": "left", "baseline": "middle", "fontSize": 13.5, "color": "#1a1a1a"},
   "encoding": {"x": {"field": "x", "type": "quantitative", "scale": {"domain": [53.5, 180], "nice": false, "zero": false}, "axis": {"title": "Volume Predicted (cc)", "values": [60, 80, 100, 120, 140, 160, 180]}}, "y": {"field": "y", "type": "quantitative", "scale": {"domain": [44.3, 190.6], "nice": false, "zero": false}, "axis": {"title": "Volume True (cc)", "values": [60, 80, 100, 120, 140, 160, 180]}}, "text": {"field": "t"}}},
  {"data": {"name": "ann"}, "transform": [{"filter": "datum.p == 'RC' && datum.k == 'b'"}], "mark": {"type": "text", "align": "left", "baseline": "middle", "fontSize": 13.5, "fontStyle": "italic", "color": "#1a1a1a"},
   "encoding": {"x": {"field": "x", "type": "quantitative", "scale": {"domain": [53.5, 180], "nice": false, "zero": false}, "axis": {"title": "Volume Predicted (cc)", "values": [60, 80, 100, 120, 140, 160, 180]}}, "y": {"field": "y", "type": "quantitative", "scale": {"domain": [44.3, 190.6], "nice": false, "zero": false}, "axis": {"title": "Volume True (cc)", "values": [60, 80, 100, 120, 140, 160, 180]}}, "text": {"field": "t"}}}
 ]},
 {"width": 36, "height": 217, "layer": [
  {"data": {"name": "hy"}, "transform": [{"filter": "datum.p == 'RC'"}], "mark": {"type": "rect", "color": "#4878CF", "fillOpacity": 0.45, "stroke": "white", "strokeWidth": 1, "clip": true},
   "encoding": {"y": {"field": "y0", "type": "quantitative", "scale": {"domain": [44.3, 190.6], "nice": false, "zero": false}, "axis": {"labels": false, "title": null}}, "y2": {"field": "y1"}, "x": {"field": "n", "type": "quantitative", "scale": {"domain": [0, 37], "nice": false}, "axis": null}, "x2": {"datum": 0}}},
  {"data": {"name": "ky"}, "transform": [{"filter": "datum.p == 'RC'"}], "mark": {"type": "line", "color": "#4878CF", "strokeWidth": 1.3, "interpolate": "catmull-rom", "clip": true},
   "encoding": {"y": {"field": "y", "type": "quantitative", "scale": {"domain": [44.3, 190.6], "nice": false, "zero": false}, "axis": {"labels": false, "title": null}}, "x": {"field": "d", "type": "quantitative", "scale": {"domain": [0, 37], "nice": false}, "axis": null}, "order": {"field": "y", "type": "quantitative"}}}
 ]}
]},
{"columns": 2, "bounds": "flush", "spacing": {"row": 7, "column": 8}, "concat": [
 {"width": 274, "height": 28, "title": "Right Medulla", "layer": [
  {"data": {"name": "hx"}, "transform": [{"filter": "datum.p == 'RM'"}], "mark": {"type": "rect", "color": "#4878CF", "fillOpacity": 0.45, "stroke": "white", "strokeWidth": 1, "clip": true},
   "encoding": {"x": {"field": "x0", "type": "quantitative", "scale": {"domain": [16.9, 78.9], "nice": false, "zero": false}, "axis": {"labels": false, "title": null}}, "x2": {"field": "x1"}, "y": {"field": "n", "type": "quantitative", "scale": {"domain": [0, 28.5], "nice": false}, "axis": null}, "y2": {"datum": 0}}},
  {"data": {"name": "kx"}, "transform": [{"filter": "datum.p == 'RM'"}], "mark": {"type": "line", "color": "#4878CF", "strokeWidth": 1.3, "interpolate": "monotone", "clip": true},
   "encoding": {"x": {"field": "x", "type": "quantitative", "scale": {"domain": [16.9, 78.9], "nice": false, "zero": false}, "axis": {"labels": false, "title": null}}, "y": {"field": "d", "type": "quantitative", "scale": {"domain": [0, 28.5], "nice": false}, "axis": null}}}
 ]},
 {"width": 36, "height": 28, "data": {"values": [{"e": 0}]}, "mark": "text", "encoding": {"text": {"value": ""}}},
 {"width": 274, "height": 217, "layer": [
  {"data": {"name": "fit"}, "transform": [{"filter": "datum.p == 'RM'"}], "mark": {"type": "area", "color": "#4878CF", "opacity": 0.2, "clip": true},
   "encoding": {"x": {"field": "x", "type": "quantitative", "scale": {"domain": [16.9, 78.9], "nice": false, "zero": false}, "axis": {"title": "Volume Predicted (cc)", "values": [20, 30, 40, 50, 60, 70]}}, "y": {"field": "lo", "type": "quantitative", "scale": {"domain": [11.9, 89.1], "nice": false, "zero": false}, "axis": {"title": "Volume True (cc)", "values": [20, 30, 40, 50, 60, 70, 80]}}, "y2": {"field": "hi"}}},
  {"data": {"name": "pts"}, "transform": [{"filter": "datum.p == 'RM'"}], "mark": {"type": "circle", "size": 33, "color": "#4878CF", "opacity": 0.85, "clip": true},
   "encoding": {"x": {"field": "x", "type": "quantitative", "scale": {"domain": [16.9, 78.9], "nice": false, "zero": false}, "axis": {"title": "Volume Predicted (cc)", "values": [20, 30, 40, 50, 60, 70]}}, "y": {"field": "y", "type": "quantitative", "scale": {"domain": [11.9, 89.1], "nice": false, "zero": false}, "axis": {"title": "Volume True (cc)", "values": [20, 30, 40, 50, 60, 70, 80]}}}},
  {"data": {"name": "fit"}, "transform": [{"filter": "datum.p == 'RM'"}], "mark": {"type": "line", "color": "#4878CF", "strokeWidth": 1.8, "clip": true},
   "encoding": {"x": {"field": "x", "type": "quantitative", "scale": {"domain": [16.9, 78.9], "nice": false, "zero": false}, "axis": {"title": "Volume Predicted (cc)", "values": [20, 30, 40, 50, 60, 70]}}, "y": {"field": "fit", "type": "quantitative", "scale": {"domain": [11.9, 89.1], "nice": false, "zero": false}, "axis": {"title": "Volume True (cc)", "values": [20, 30, 40, 50, 60, 70, 80]}}}},
  {"data": {"name": "ann"}, "transform": [{"filter": "datum.p == 'RM' && datum.k == 'a'"}], "mark": {"type": "text", "align": "left", "baseline": "middle", "fontSize": 13.5, "color": "#1a1a1a"},
   "encoding": {"x": {"field": "x", "type": "quantitative", "scale": {"domain": [16.9, 78.9], "nice": false, "zero": false}, "axis": {"title": "Volume Predicted (cc)", "values": [20, 30, 40, 50, 60, 70]}}, "y": {"field": "y", "type": "quantitative", "scale": {"domain": [11.9, 89.1], "nice": false, "zero": false}, "axis": {"title": "Volume True (cc)", "values": [20, 30, 40, 50, 60, 70, 80]}}, "text": {"field": "t"}}},
  {"data": {"name": "ann"}, "transform": [{"filter": "datum.p == 'RM' && datum.k == 'b'"}], "mark": {"type": "text", "align": "left", "baseline": "middle", "fontSize": 13.5, "fontStyle": "italic", "color": "#1a1a1a"},
   "encoding": {"x": {"field": "x", "type": "quantitative", "scale": {"domain": [16.9, 78.9], "nice": false, "zero": false}, "axis": {"title": "Volume Predicted (cc)", "values": [20, 30, 40, 50, 60, 70]}}, "y": {"field": "y", "type": "quantitative", "scale": {"domain": [11.9, 89.1], "nice": false, "zero": false}, "axis": {"title": "Volume True (cc)", "values": [20, 30, 40, 50, 60, 70, 80]}}, "text": {"field": "t"}}}
 ]},
 {"width": 36, "height": 217, "layer": [
  {"data": {"name": "hy"}, "transform": [{"filter": "datum.p == 'RM'"}], "mark": {"type": "rect", "color": "#4878CF", "fillOpacity": 0.45, "stroke": "white", "strokeWidth": 1, "clip": true},
   "encoding": {"y": {"field": "y0", "type": "quantitative", "scale": {"domain": [11.9, 89.1], "nice": false, "zero": false}, "axis": {"labels": false, "title": null}}, "y2": {"field": "y1"}, "x": {"field": "n", "type": "quantitative", "scale": {"domain": [0, 37], "nice": false}, "axis": null}, "x2": {"datum": 0}}},
  {"data": {"name": "ky"}, "transform": [{"filter": "datum.p == 'RM'"}], "mark": {"type": "line", "color": "#4878CF", "strokeWidth": 1.3, "interpolate": "catmull-rom", "clip": true},
   "encoding": {"y": {"field": "y", "type": "quantitative", "scale": {"domain": [11.9, 89.1], "nice": false, "zero": false}, "axis": {"labels": false, "title": null}}, "x": {"field": "d", "type": "quantitative", "scale": {"domain": [0, 37], "nice": false}, "axis": null}, "order": {"field": "y", "type": "quantitative"}}}
 ]}
]}
], "spacing": 31},
{"hconcat": [
{"columns": 2, "bounds": "flush", "spacing": {"row": 7, "column": 8}, "concat": [
 {"width": 274, "height": 28, "title": "Left Cortex", "layer": [
  {"data": {"name": "hx"}, "transform": [{"filter": "datum.p == 'LC'"}], "mark": {"type": "rect", "color": "#4878CF", "fillOpacity": 0.45, "stroke": "white", "strokeWidth": 1, "clip": true},
   "encoding": {"x": {"field": "x0", "type": "quantitative", "scale": {"domain": [54, 193.7], "nice": false, "zero": false}, "axis": {"labels": false, "title": null}}, "x2": {"field": "x1"}, "y": {"field": "n", "type": "quantitative", "scale": {"domain": [0, 28.5], "nice": false}, "axis": null}, "y2": {"datum": 0}}},
  {"data": {"name": "kx"}, "transform": [{"filter": "datum.p == 'LC'"}], "mark": {"type": "line", "color": "#4878CF", "strokeWidth": 1.3, "interpolate": "monotone", "clip": true},
   "encoding": {"x": {"field": "x", "type": "quantitative", "scale": {"domain": [54, 193.7], "nice": false, "zero": false}, "axis": {"labels": false, "title": null}}, "y": {"field": "d", "type": "quantitative", "scale": {"domain": [0, 28.5], "nice": false}, "axis": null}}}
 ]},
 {"width": 36, "height": 28, "data": {"values": [{"e": 0}]}, "mark": "text", "encoding": {"text": {"value": ""}}},
 {"width": 274, "height": 217, "layer": [
  {"data": {"name": "fit"}, "transform": [{"filter": "datum.p == 'LC'"}], "mark": {"type": "area", "color": "#4878CF", "opacity": 0.2, "clip": true},
   "encoding": {"x": {"field": "x", "type": "quantitative", "scale": {"domain": [54, 193.7], "nice": false, "zero": false}, "axis": {"title": "Volume Predicted (cc)", "values": [75, 100, 125, 150, 175]}}, "y": {"field": "lo", "type": "quantitative", "scale": {"domain": [43, 203], "nice": false, "zero": false}, "axis": {"title": "Volume True (cc)", "values": [60, 80, 100, 120, 140, 160, 180, 200]}}, "y2": {"field": "hi"}}},
  {"data": {"name": "pts"}, "transform": [{"filter": "datum.p == 'LC'"}], "mark": {"type": "circle", "size": 33, "color": "#4878CF", "opacity": 0.85, "clip": true},
   "encoding": {"x": {"field": "x", "type": "quantitative", "scale": {"domain": [54, 193.7], "nice": false, "zero": false}, "axis": {"title": "Volume Predicted (cc)", "values": [75, 100, 125, 150, 175]}}, "y": {"field": "y", "type": "quantitative", "scale": {"domain": [43, 203], "nice": false, "zero": false}, "axis": {"title": "Volume True (cc)", "values": [60, 80, 100, 120, 140, 160, 180, 200]}}}},
  {"data": {"name": "fit"}, "transform": [{"filter": "datum.p == 'LC'"}], "mark": {"type": "line", "color": "#4878CF", "strokeWidth": 1.8, "clip": true},
   "encoding": {"x": {"field": "x", "type": "quantitative", "scale": {"domain": [54, 193.7], "nice": false, "zero": false}, "axis": {"title": "Volume Predicted (cc)", "values": [75, 100, 125, 150, 175]}}, "y": {"field": "fit", "type": "quantitative", "scale": {"domain": [43, 203], "nice": false, "zero": false}, "axis": {"title": "Volume True (cc)", "values": [60, 80, 100, 120, 140, 160, 180, 200]}}}},
  {"data": {"name": "ann"}, "transform": [{"filter": "datum.p == 'LC' && datum.k == 'a'"}], "mark": {"type": "text", "align": "left", "baseline": "middle", "fontSize": 13.5, "color": "#1a1a1a"},
   "encoding": {"x": {"field": "x", "type": "quantitative", "scale": {"domain": [54, 193.7], "nice": false, "zero": false}, "axis": {"title": "Volume Predicted (cc)", "values": [75, 100, 125, 150, 175]}}, "y": {"field": "y", "type": "quantitative", "scale": {"domain": [43, 203], "nice": false, "zero": false}, "axis": {"title": "Volume True (cc)", "values": [60, 80, 100, 120, 140, 160, 180, 200]}}, "text": {"field": "t"}}},
  {"data": {"name": "ann"}, "transform": [{"filter": "datum.p == 'LC' && datum.k == 'b'"}], "mark": {"type": "text", "align": "left", "baseline": "middle", "fontSize": 13.5, "fontStyle": "italic", "color": "#1a1a1a"},
   "encoding": {"x": {"field": "x", "type": "quantitative", "scale": {"domain": [54, 193.7], "nice": false, "zero": false}, "axis": {"title": "Volume Predicted (cc)", "values": [75, 100, 125, 150, 175]}}, "y": {"field": "y", "type": "quantitative", "scale": {"domain": [43, 203], "nice": false, "zero": false}, "axis": {"title": "Volume True (cc)", "values": [60, 80, 100, 120, 140, 160, 180, 200]}}, "text": {"field": "t"}}}
 ]},
 {"width": 36, "height": 217, "layer": [
  {"data": {"name": "hy"}, "transform": [{"filter": "datum.p == 'LC'"}], "mark": {"type": "rect", "color": "#4878CF", "fillOpacity": 0.45, "stroke": "white", "strokeWidth": 1, "clip": true},
   "encoding": {"y": {"field": "y0", "type": "quantitative", "scale": {"domain": [43, 203], "nice": false, "zero": false}, "axis": {"labels": false, "title": null}}, "y2": {"field": "y1"}, "x": {"field": "n", "type": "quantitative", "scale": {"domain": [0, 37], "nice": false}, "axis": null}, "x2": {"datum": 0}}},
  {"data": {"name": "ky"}, "transform": [{"filter": "datum.p == 'LC'"}], "mark": {"type": "line", "color": "#4878CF", "strokeWidth": 1.3, "interpolate": "catmull-rom", "clip": true},
   "encoding": {"y": {"field": "y", "type": "quantitative", "scale": {"domain": [43, 203], "nice": false, "zero": false}, "axis": {"labels": false, "title": null}}, "x": {"field": "d", "type": "quantitative", "scale": {"domain": [0, 37], "nice": false}, "axis": null}, "order": {"field": "y", "type": "quantitative"}}}
 ]}
]},
{"columns": 2, "bounds": "flush", "spacing": {"row": 7, "column": 8}, "concat": [
 {"width": 274, "height": 28, "title": "Left Medulla", "layer": [
  {"data": {"name": "hx"}, "transform": [{"filter": "datum.p == 'LM'"}], "mark": {"type": "rect", "color": "#4878CF", "fillOpacity": 0.45, "stroke": "white", "strokeWidth": 1, "clip": true},
   "encoding": {"x": {"field": "x0", "type": "quantitative", "scale": {"domain": [16.6, 74.1], "nice": false, "zero": false}, "axis": {"labels": false, "title": null}}, "x2": {"field": "x1"}, "y": {"field": "n", "type": "quantitative", "scale": {"domain": [0, 28.5], "nice": false}, "axis": null}, "y2": {"datum": 0}}},
  {"data": {"name": "kx"}, "transform": [{"filter": "datum.p == 'LM'"}], "mark": {"type": "line", "color": "#4878CF", "strokeWidth": 1.3, "interpolate": "monotone", "clip": true},
   "encoding": {"x": {"field": "x", "type": "quantitative", "scale": {"domain": [16.6, 74.1], "nice": false, "zero": false}, "axis": {"labels": false, "title": null}}, "y": {"field": "d", "type": "quantitative", "scale": {"domain": [0, 28.5], "nice": false}, "axis": null}}}
 ]},
 {"width": 36, "height": 28, "data": {"values": [{"e": 0}]}, "mark": "text", "encoding": {"text": {"value": ""}}},
 {"width": 274, "height": 217, "layer": [
  {"data": {"name": "fit"}, "transform": [{"filter": "datum.p == 'LM'"}], "mark": {"type": "area", "color": "#4878CF", "opacity": 0.2, "clip": true},
   "encoding": {"x": {"field": "x", "type": "quantitative", "scale": {"domain": [16.6, 74.1], "nice": false, "zero": false}, "axis": {"title": "Volume Predicted (cc)", "values": [20, 30, 40, 50, 60, 70]}}, "y": {"field": "lo", "type": "quantitative", "scale": {"domain": [11.9, 81.4], "nice": false, "zero": false}, "axis": {"title": "Volume True (cc)", "values": [20, 30, 40, 50, 60, 70, 80]}}, "y2": {"field": "hi"}}},
  {"data": {"name": "pts"}, "transform": [{"filter": "datum.p == 'LM'"}], "mark": {"type": "circle", "size": 33, "color": "#4878CF", "opacity": 0.85, "clip": true},
   "encoding": {"x": {"field": "x", "type": "quantitative", "scale": {"domain": [16.6, 74.1], "nice": false, "zero": false}, "axis": {"title": "Volume Predicted (cc)", "values": [20, 30, 40, 50, 60, 70]}}, "y": {"field": "y", "type": "quantitative", "scale": {"domain": [11.9, 81.4], "nice": false, "zero": false}, "axis": {"title": "Volume True (cc)", "values": [20, 30, 40, 50, 60, 70, 80]}}}},
  {"data": {"name": "fit"}, "transform": [{"filter": "datum.p == 'LM'"}], "mark": {"type": "line", "color": "#4878CF", "strokeWidth": 1.8, "clip": true},
   "encoding": {"x": {"field": "x", "type": "quantitative", "scale": {"domain": [16.6, 74.1], "nice": false, "zero": false}, "axis": {"title": "Volume Predicted (cc)", "values": [20, 30, 40, 50, 60, 70]}}, "y": {"field": "fit", "type": "quantitative", "scale": {"domain": [11.9, 81.4], "nice": false, "zero": false}, "axis": {"title": "Volume True (cc)", "values": [20, 30, 40, 50, 60, 70, 80]}}}},
  {"data": {"name": "ann"}, "transform": [{"filter": "datum.p == 'LM' && datum.k == 'a'"}], "mark": {"type": "text", "align": "left", "baseline": "middle", "fontSize": 13.5, "color": "#1a1a1a"},
   "encoding": {"x": {"field": "x", "type": "quantitative", "scale": {"domain": [16.6, 74.1], "nice": false, "zero": false}, "axis": {"title": "Volume Predicted (cc)", "values": [20, 30, 40, 50, 60, 70]}}, "y": {"field": "y", "type": "quantitative", "scale": {"domain": [11.9, 81.4], "nice": false, "zero": false}, "axis": {"title": "Volume True (cc)", "values": [20, 30, 40, 50, 60, 70, 80]}}, "text": {"field": "t"}}},
  {"data": {"name": "ann"}, "transform": [{"filter": "datum.p == 'LM' && datum.k == 'b'"}], "mark": {"type": "text", "align": "left", "baseline": "middle", "fontSize": 13.5, "fontStyle": "italic", "color": "#1a1a1a"},
   "encoding": {"x": {"field": "x", "type": "quantitative", "scale": {"domain": [16.6, 74.1], "nice": false, "zero": false}, "axis": {"title": "Volume Predicted (cc)", "values": [20, 30, 40, 50, 60, 70]}}, "y": {"field": "y", "type": "quantitative", "scale": {"domain": [11.9, 81.4], "nice": false, "zero": false}, "axis": {"title": "Volume True (cc)", "values": [20, 30, 40, 50, 60, 70, 80]}}, "text": {"field": "t"}}}
 ]},
 {"width": 36, "height": 217, "layer": [
  {"data": {"name": "hy"}, "transform": [{"filter": "datum.p == 'LM'"}], "mark": {"type": "rect", "color": "#4878CF", "fillOpacity": 0.45, "stroke": "white", "strokeWidth": 1, "clip": true},
   "encoding": {"y": {"field": "y0", "type": "quantitative", "scale": {"domain": [11.9, 81.4], "nice": false, "zero": false}, "axis": {"labels": false, "title": null}}, "y2": {"field": "y1"}, "x": {"field": "n", "type": "quantitative", "scale": {"domain": [0, 37], "nice": false}, "axis": null}, "x2": {"datum": 0}}},
  {"data": {"name": "ky"}, "transform": [{"filter": "datum.p == 'LM'"}], "mark": {"type": "line", "color": "#4878CF", "strokeWidth": 1.3, "interpolate": "catmull-rom", "clip": true},
   "encoding": {"y": {"field": "y", "type": "quantitative", "scale": {"domain": [11.9, 81.4], "nice": false, "zero": false}, "axis": {"labels": false, "title": null}}, "x": {"field": "d", "type": "quantitative", "scale": {"domain": [0, 37], "nice": false}, "axis": null}, "order": {"field": "y", "type": "quantitative"}}}
 ]}
]}
], "spacing": 31}
],
"spacing": 26,
"config": {
 "view": {"stroke": null},
 "font": "Liberation Sans",
 "axis": {"grid": false, "ticks": false, "domainColor": "#333333", "domainWidth": 1.2, "labelFont": "Liberation Sans", "labelFontSize": 12, "labelColor": "#222222", "labelPadding": 5, "labelFlush": false, "labelOverlap": false, "titleFont": "Liberation Sans", "titleFontSize": 13.3, "titleFontWeight": "normal", "titleColor": "#222222", "titlePadding": 8},
 "axisX": {"titlePadding": 10, "labelPadding": 3},
 "title": {"font": "Liberation Sans", "fontSize": 13.3, "fontWeight": "normal", "color": "#222222", "offset": 7},
 "text": {"font": "Liberation Sans"}
}
}
